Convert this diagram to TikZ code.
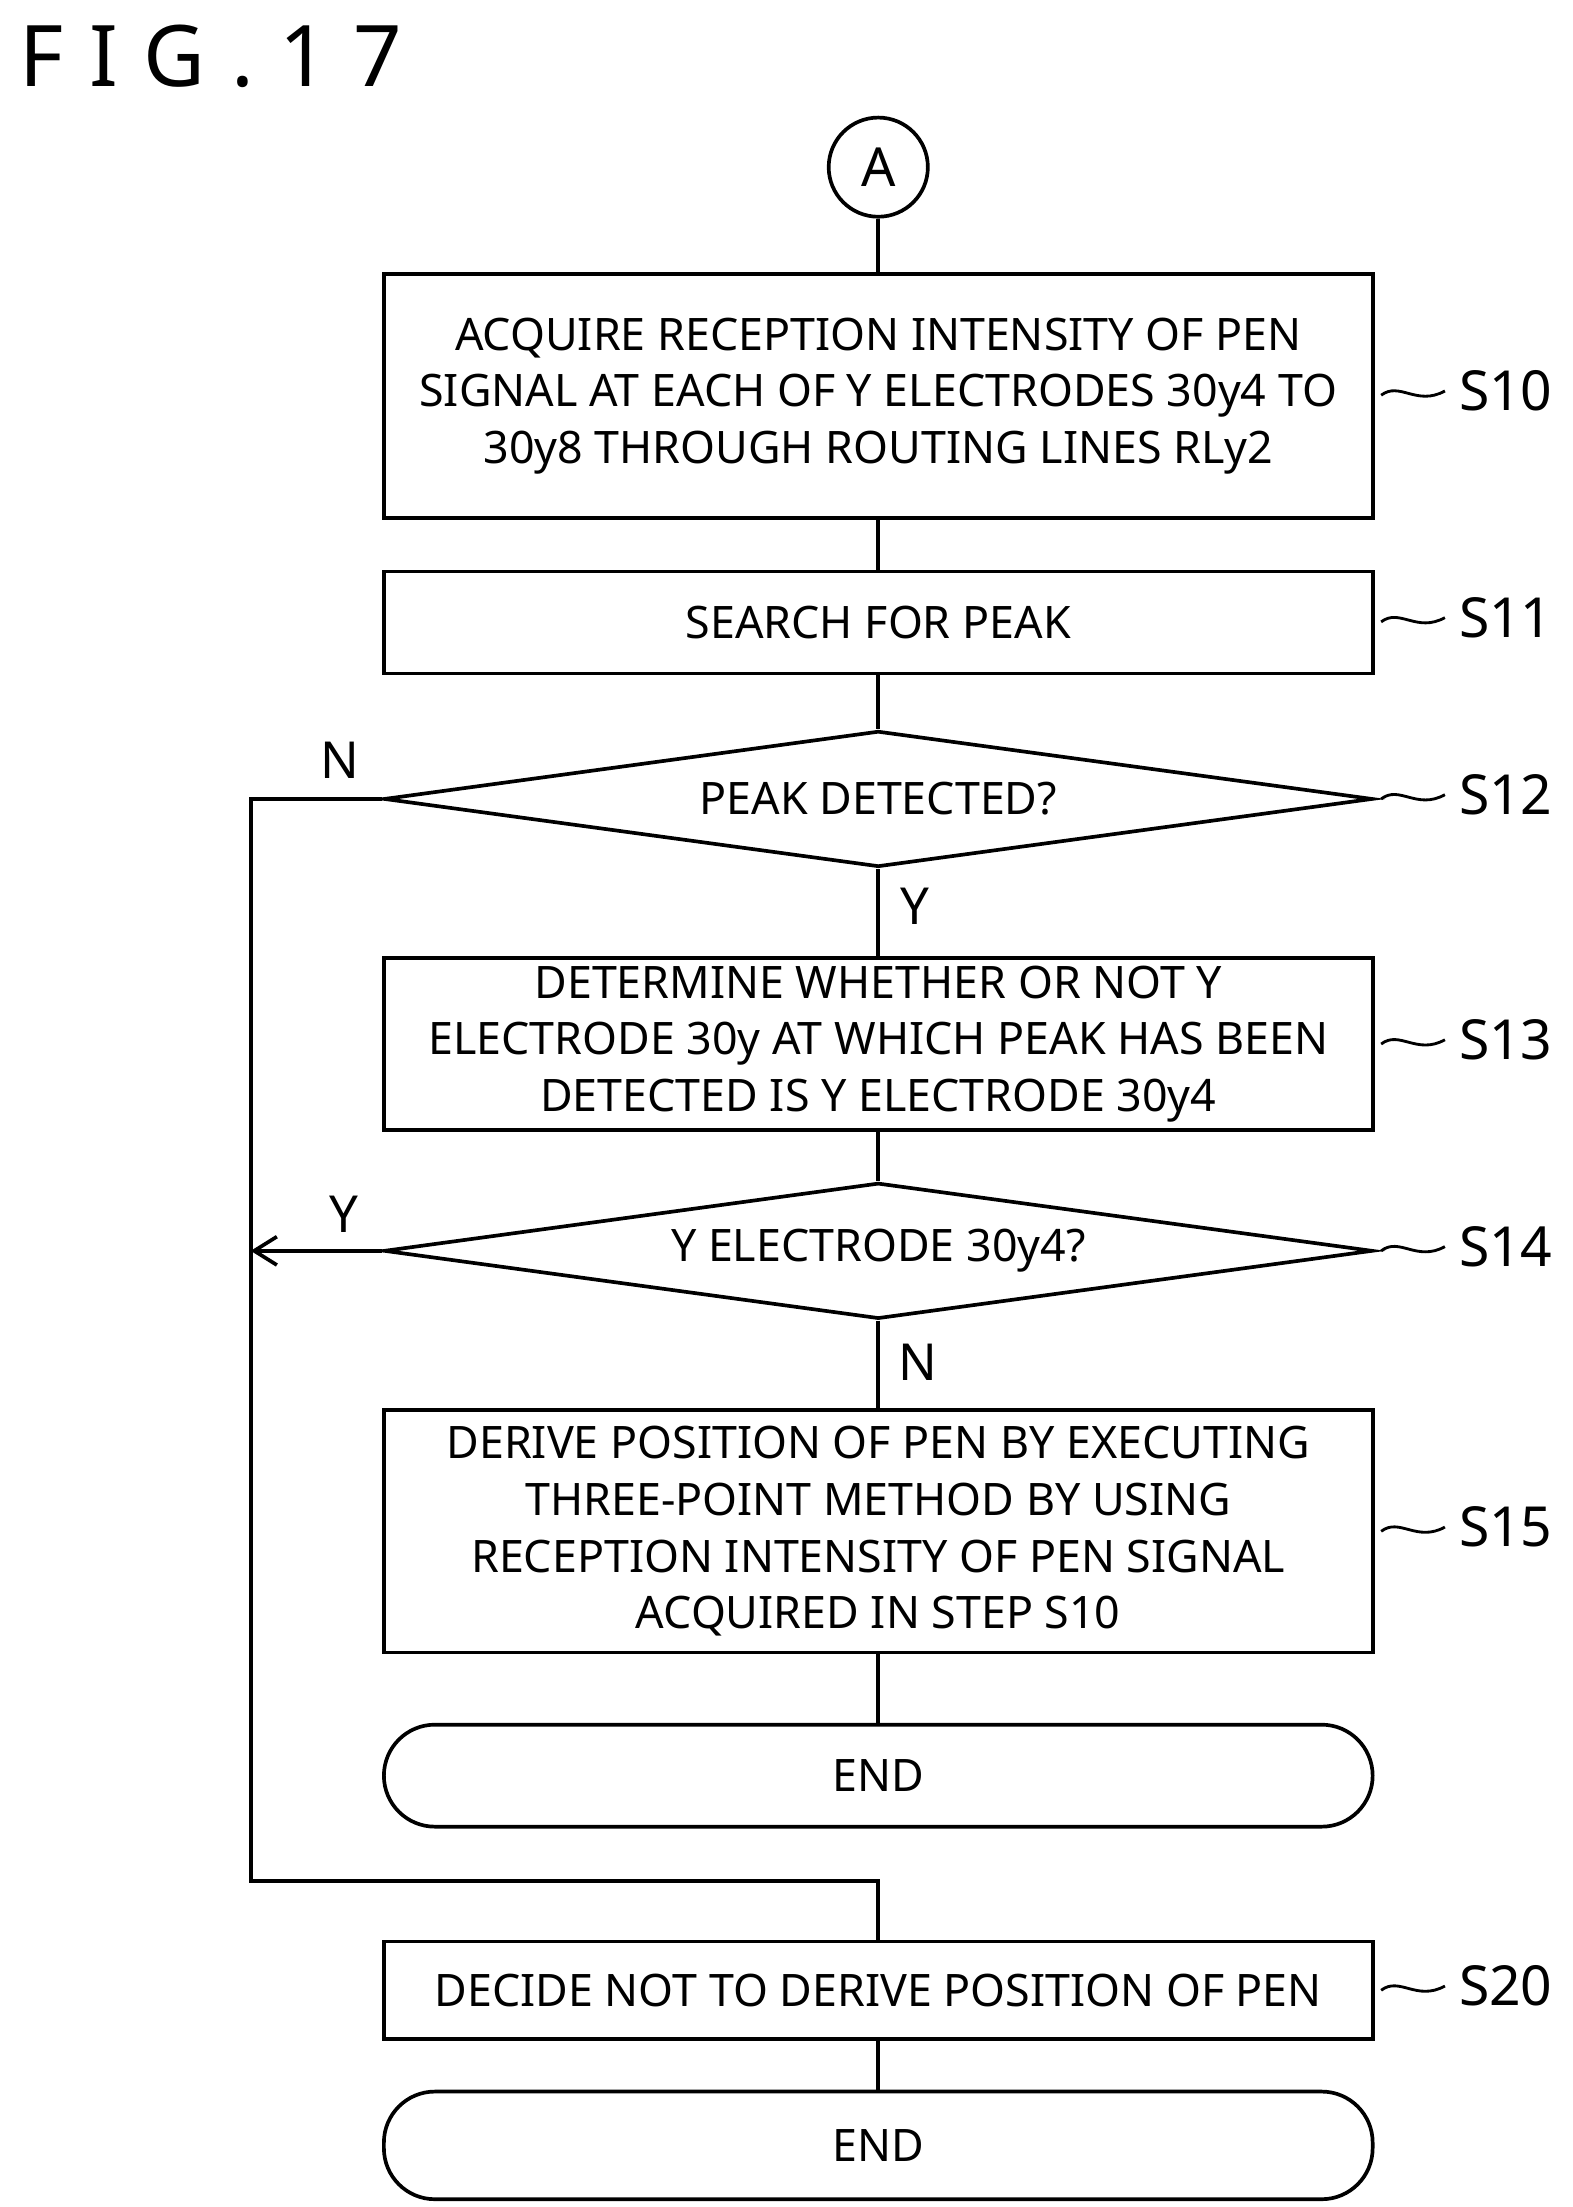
\documentclass[tikz,border=0pt]{standalone}
\usepackage{fontspec}
\setmainfont{Noto Sans}
\usetikzlibrary{shapes.geometric,arrows.meta}
\begin{document}
\begin{tikzpicture}[x=0.5pt,y=-0.5pt,line width=1.3pt,
  box/.style={draw,minimum width=349pt,align=center,font=\fontsize{15.8}{20}\selectfont,inner sep=0pt},
  dia/.style={draw,diamond,aspect=7.1,minimum width=349pt,minimum height=48pt,inner sep=0pt,font=\fontsize{15.8}{20}\selectfont},
  term/.style={draw,rounded corners=18pt,minimum width=349pt,font=\fontsize{15.8}{20}\selectfont},
  lab/.style={font=\fontsize{19.5}{22}\selectfont,anchor=west},
  yn/.style={font=\fontsize{18}{20}\selectfont}]
\useasboundingbox (0,0) rectangle (1110,1558);
\node[anchor=west,font=\fontsize{30}{32}\selectfont] (t) at (6,40) {F\hspace{9pt}I\hspace{9pt}G\hspace{9pt}.\hspace{9pt}1\hspace{9pt}7};
\node[draw,circle,minimum size=35pt,inner sep=0pt,font=\fontsize{19}{22}\selectfont] (A) at (620,118) {A};
\node[box,minimum height=86pt] (s10) at (620,279.5) {ACQUIRE RECEPTION INTENSITY OF PEN\\SIGNAL AT EACH OF Y ELECTRODES 30y4 TO\\30y8 THROUGH ROUTING LINES RLy2};
\node[box,minimum height=36pt] (s11) at (620,439.5) {SEARCH FOR PEAK};
\node[dia] (s12) at (620,564) {PEAK DETECTED?};
\node[box,minimum height=60.5pt] (s13) at (620,737) {DETERMINE WHETHER OR NOT Y\\ELECTRODE 30y AT WHICH PEAK HAS BEEN\\DETECTED IS Y ELECTRODE 30y4};
\node[dia] (s14) at (620,883) {Y ELECTRODE 30y4?};
\node[box,minimum height=85.5pt] (s15) at (620,1081) {DERIVE POSITION OF PEN BY EXECUTING\\THREE-POINT METHOD BY USING\\RECEPTION INTENSITY OF PEN SIGNAL\\ACQUIRED IN STEP S10};
\node[term,minimum height=36pt] (e1) at (620,1253.5) {END};
\node[box,minimum height=34.5pt] (s20) at (620,1405) {DECIDE NOT TO DERIVE POSITION OF PEN};
\node[term,minimum height=38pt] (e2) at (620,1514.5) {END};
\draw (A)--(s10); \draw (s10)--(s11); \draw (s11)--(s12.north);
\draw (s12.south)--(s13); \draw (s13)--(s14.north); \draw (s14.south)--(s15); \draw (s15)--(e1);
\draw (s20)--(e2);
\coordinate (c1) at (177,564); \coordinate (c2) at (177,883);
\coordinate (c3) at (177,1328); \coordinate (c4) at (620,1328);
\draw (s12.west)--(c1)--(c3)--(c4)--(s20.north);
\draw[-{Straight Barb[length=8pt,width=10pt]}] (s14.west)--(c2);
\node[yn] at (240,537) {N}; \node[yn] at (646,640) {Y};
\node[yn] at (243,857) {Y}; \node[yn] at (648,962) {N};
\foreach \n/\y in {s10/279,s11/439,s12/564,s13/737,s14/883,s15/1081,s20/1405}{
  \draw[line width=1pt] (975,\y) .. controls (988,\y-10) and (1000,\y+8) .. (1020,\y-3);
  \node[lab] at (1022,\y-3) {\MakeUppercase{\n}};}
\end{tikzpicture}
\end{document}
